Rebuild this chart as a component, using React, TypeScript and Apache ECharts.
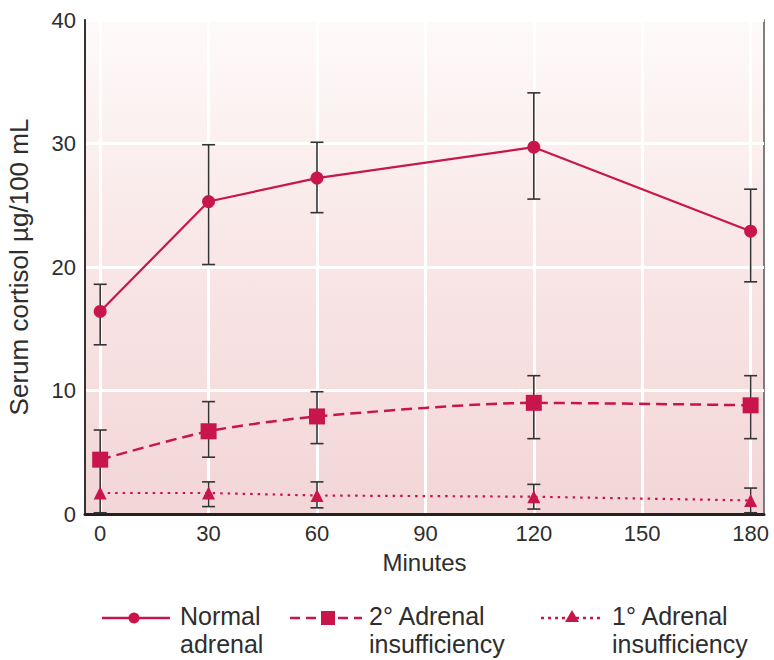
import React, { useEffect, useRef } from "react";
import * as echarts from "echarts";

const minutes = [0, 30, 60, 120, 180];
const xTicks = [0, 30, 60, 90, 120, 150, 180];

const normalMean = [16.4, 25.3, 27.2, 29.7, 22.9];
const normalLow = [13.7, 20.2, 24.4, 25.5, 18.8];
const normalHigh = [18.6, 29.9, 30.1, 34.1, 26.3];

const secondaryMean = [4.4, 6.7, 7.9, 9.0, 8.8];
const secondaryLow = [0.1, 4.6, 5.7, 6.1, 6.1];
const secondaryHigh = [6.8, 9.1, 9.9, 11.2, 11.2];

const primaryMinutes = [30, 60, 120, 180];
const primaryMeanAll = [1.7, 1.7, 1.5, 1.4, 1.1];
const primaryLow = [0.6, 0.5, 0.4, 0.1];
const primaryHigh = [2.6, 2.6, 2.4, 2.1];

const legendNames = [
  ["Normal", "adrenal"],
  ["2° Adrenal", "insufficiency"],
  ["1° Adrenal", "insufficiency"],
];

const RED = "#c8164b";
const FONT = "'Liberation Sans', Arial, Helvetica, sans-serif";
const TXT = "#2e2e2e";

function errorSeries(xs: number[], lo: number[], hi: number[]) {
  return {
    type: "custom",
    silent: true,
    z: 3,
    data: xs.map((x, i) => [x, lo[i], hi[i]]),
    encode: { x: 0, y: [1, 2] },
    renderItem: (_p: any, api: any) => {
      const x = api.value(0);
      const pHi = api.coord([x, api.value(2)]);
      const pLo = api.coord([x, api.value(1)]);
      const w = 6.5;
      const style = { stroke: "#333", lineWidth: 1.6 };
      return {
        type: "group",
        children: [
          { type: "line", shape: { x1: pHi[0], y1: pHi[1], x2: pLo[0], y2: pLo[1] }, style },
          { type: "line", shape: { x1: pHi[0] - w, y1: pHi[1], x2: pHi[0] + w, y2: pHi[1] }, style },
          { type: "line", shape: { x1: pLo[0] - w, y1: pLo[1], x2: pLo[0] + w, y2: pLo[1] }, style },
        ],
      };
    },
  };
}

function legendGraphic() {
  const items = [
    { x1: 102, x2: 170, mx: 134, tx: 180, dash: null as any, marker: "circle" },
    { x1: 290, x2: 362, mx: 328, tx: 369, dash: [10, 6], marker: "rect" },
    { x1: 541, x2: 602, mx: 572, tx: 612, dash: [3, 4], marker: "triangle" },
  ];
  const ly = 618;
  const out: any[] = [];
  items.forEach((it, i) => {
    out.push({
      type: "line",
      shape: { x1: it.x1, y1: ly, x2: it.x2, y2: ly },
      style: { stroke: RED, lineWidth: 2.5, lineDash: it.dash || undefined },
    });
    if (it.marker === "circle") {
      out.push({ type: "circle", shape: { cx: it.mx, cy: ly, r: 5.5 }, style: { fill: RED } });
    } else if (it.marker === "rect") {
      out.push({ type: "rect", shape: { x: it.mx - 7, y: ly - 7, width: 14, height: 14 }, style: { fill: RED } });
    } else {
      out.push({
        type: "polygon",
        shape: { points: [[it.mx, ly - 8], [it.mx + 7, ly + 4], [it.mx - 7, ly + 4]] },
        style: { fill: RED },
      });
    }
    out.push({
      type: "text",
      x: it.tx,
      y: 602,
      style: {
        text: legendNames[i][0] + "\n" + legendNames[i][1],
        fill: TXT,
        font: `25px ${FONT}`,
        lineHeight: 28,
        textVerticalAlign: "top",
      },
    });
  });
  return out;
}

export default function App() {
  const ref = useRef<HTMLDivElement>(null);
  useEffect(() => {
    if (!ref.current) return;
    const chart = echarts.init(ref.current, undefined, { renderer: "svg" });
    chart.setOption({
      animation: false,
      backgroundColor: "#ffffff",
      grid: {
        left: 85,
        right: 10,
        top: 20,
        bottom: 146,
        outerBoundsMode: "none",
        containLabel: false,
        show: true,
        borderColor: "#555",
        borderWidth: 1.5,
        backgroundColor: {
          type: "linear",
          x: 0,
          y: 0,
          x2: 0,
          y2: 1,
          colorStops: [
            { offset: 0, color: "#fefafa" },
            { offset: 0.45, color: "#f9e7e7" },
            { offset: 1, color: "#f3d6d7" },
          ],
        },
      },
      xAxis: {
        type: "value",
        min: -4.2,
        max: 183.7,
        name: "Minutes",
        nameLocation: "middle",
        nameGap: 36,
        nameTextStyle: { fontFamily: FONT, fontSize: 24, color: TXT },
        axisLine: { show: true, onZero: false, lineStyle: { color: "#222", width: 3 } },
        axisTick: { show: false, customValues: xTicks },
        axisLabel: {
          customValues: xTicks,
          fontFamily: FONT,
          fontSize: 22,
          color: TXT,
          margin: 8,
        },
        splitLine: { show: true, lineStyle: { color: "#ffffff", width: 3 } },
      },
      yAxis: {
        type: "value",
        min: 0,
        max: 40,
        interval: 10,
        name: "Serum cortisol µg/100 mL",
        nameLocation: "middle",
        nameGap: 53,
        nameTextStyle: { fontFamily: FONT, fontSize: 26, color: TXT },
        axisLine: { show: true, onZero: false, lineStyle: { color: "#333", width: 2 } },
        axisTick: { show: false },
        axisLabel: { fontFamily: FONT, fontSize: 22, color: TXT, margin: 9 },
        splitLine: { show: true, lineStyle: { color: "#ffffff", width: 3 } },
      },
      series: [
        errorSeries(minutes, normalLow, normalHigh),
        errorSeries(minutes, secondaryLow, secondaryHigh),
        errorSeries(primaryMinutes, primaryLow, primaryHigh),
        {
          type: "line",
          name: "Normal adrenal",
          z: 4,
          data: minutes.map((m, i) => [m, normalMean[i]]),
          symbol: "circle",
          symbolSize: 13,
          itemStyle: { color: RED },
          lineStyle: { color: RED, width: 2.2 },
        },
        {
          type: "line",
          name: "2° Adrenal insufficiency",
          z: 4,
          smooth: 0.25,
          data: minutes.map((m, i) => [m, secondaryMean[i]]),
          symbol: "rect",
          symbolSize: 16,
          itemStyle: { color: RED },
          lineStyle: { color: RED, width: 2.5, type: [11, 6] },
        },
        {
          type: "line",
          name: "1° Adrenal insufficiency",
          z: 4,
          data: minutes.map((m, i) => [m, primaryMeanAll[i]]),
          symbol: "triangle",
          symbolSize: 13,
          itemStyle: { color: RED },
          lineStyle: { color: RED, width: 2.2, type: [2.5, 5] },
        },
      ],
      graphic: legendGraphic(),
    });
    return () => chart.dispose();
  }, []);
  return <div ref={ref} style={{ width: 774, height: 660, position: "absolute", left: 0, top: 0 }} />;
}
